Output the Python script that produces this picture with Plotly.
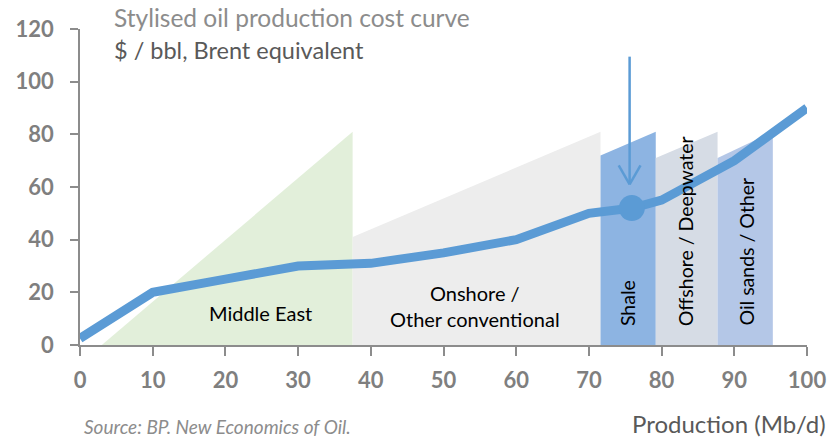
import plotly.graph_objects as go

# Cost curve (Mb/d vs $/bbl)
curve_x = [0, 10, 20, 30, 40, 50, 60, 70, 76, 80, 90, 100]
curve_y = [2.5, 20, 25, 30, 31, 35, 40, 50, 52, 55, 70, 90]

# Segment outlines: [x_start, x_end], [cost at start, cost at end]
middle_east_x = [3, 37.5]
middle_east_y = [0, 81]
onshore_x = [37.5, 71.6]
onshore_y = [41, 81]
shale_x = [71.6, 79.2]
shale_y = [72, 81]
offshore_x = [79.2, 87.7]
offshore_y = [71, 81]
oilsands_x = [87.7, 95.3]
oilsands_y = [71, 81]

# Highlighted shale point
shale_point_x = 75.9
shale_point_y = 52
arrow_top_y = 109.5

FONT = "Lato, Open Sans, Arial"
GREY = "#7f7f7f"
BLUE = "#5b9bd5"

fig = go.Figure()


def wedge(xs, ys, color):
    # closed polygon from the baseline up the sloped top edge
    fig.add_trace(go.Scatter(
        x=[xs[0], xs[0], xs[1], xs[1], xs[0]],
        y=[0, ys[0], ys[1], 0, 0],
        fill="toself", fillcolor=color, mode="none",
        hoverinfo="skip", showlegend=False))


wedge(middle_east_x, middle_east_y, "#e2efda")
wedge(onshore_x, onshore_y, "#ededed")
wedge(shale_x, shale_y, "#8db4e2")
wedge(offshore_x, offshore_y, "#d6dce5")
wedge(oilsands_x, oilsands_y, "#b4c7e7")

fig.add_trace(go.Scatter(
    x=curve_x, y=curve_y, mode="lines",
    line=dict(color=BLUE, width=9), hoverinfo="skip", showlegend=False))

fig.add_trace(go.Scatter(
    x=[shale_point_x], y=[shale_point_y], mode="markers",
    marker=dict(color=BLUE, size=26), hoverinfo="skip", showlegend=False))

# Arrow pointing at the shale point (open chevron head)
arrow_x = shale_point_x - 0.3
tip_y = shale_point_y + 9
fig.add_shape(type="line", x0=arrow_x, x1=arrow_x, y0=arrow_top_y, y1=tip_y,
              line=dict(color=BLUE, width=2.5))
for dx in (-1.5, 1.5):
    fig.add_shape(type="line", x0=arrow_x + dx, x1=arrow_x, y0=tip_y + 7.2, y1=tip_y,
                  line=dict(color=BLUE, width=2.5))

label_font = dict(family=FONT, size=20, color="#000000")
fig.add_annotation(x=24.8, y=12, text="Middle East", showarrow=False, font=label_font)
fig.add_annotation(x=54.4, y=15, text="Onshore /<br>Other conventional", showarrow=False,
                   font=label_font)
for xc, txt in [(75.4, "Shale"), (83.4, "Offshore / Deepwater"), (91.7, "Oil sands / Other")]:
    fig.add_annotation(x=xc, y=6.5, text=txt, showarrow=False, textangle=-90,
                       yanchor="bottom", font=dict(family=FONT, size=19.5, color="#000000"))

fig.add_annotation(xref="paper", yref="paper", x=0.0445, y=1.036, xanchor="left",
                   yanchor="middle", text="Stylised oil production cost curve",
                   showarrow=False, font=dict(family=FONT, size=24.5, color="#8c8c8c"))
fig.add_annotation(xref="paper", yref="paper", x=0.0445, y=0.935, xanchor="left",
                   yanchor="middle", text="$ / bbl, Brent equivalent",
                   showarrow=False, font=dict(family=FONT, size=23.5, color="#595959"))
fig.add_annotation(xref="paper", yref="paper", x=1.029, y=-0.247, xanchor="right",
                   yanchor="middle", text="Production (Mb/d)",
                   showarrow=False, font=dict(family=FONT, size=24, color="#595959"))
fig.add_annotation(xref="paper", yref="paper", x=0.003, y=-0.258, xanchor="left",
                   yanchor="middle", text="<i>Source: BP. New Economics of Oil.</i>",
                   showarrow=False, font=dict(family=FONT, size=19, color="#8c8c8c"))

axis_common = dict(
    showgrid=False, zeroline=False, showline=True, linecolor="#8c8c8c", linewidth=1.5,
    ticks="outside", tickcolor="#8c8c8c", tickwidth=1.5, automargin=False,
    tickfont=dict(family=FONT, size=22, color=GREY, weight="bold"),
)
fig.update_xaxes(range=[0, 100], tick0=0, dtick=10, ticklen=9, ticklabelstandoff=6,
                 **axis_common)
fig.update_yaxes(range=[0, 120], tick0=0, dtick=20, ticklen=8, ticklabelstandoff=12,
                 **axis_common)

fig.update_layout(
    width=829, height=437,
    margin=dict(l=80, r=22, t=29, b=92),
    plot_bgcolor="white", paper_bgcolor="white",
)

fig.write_html("out.html")
